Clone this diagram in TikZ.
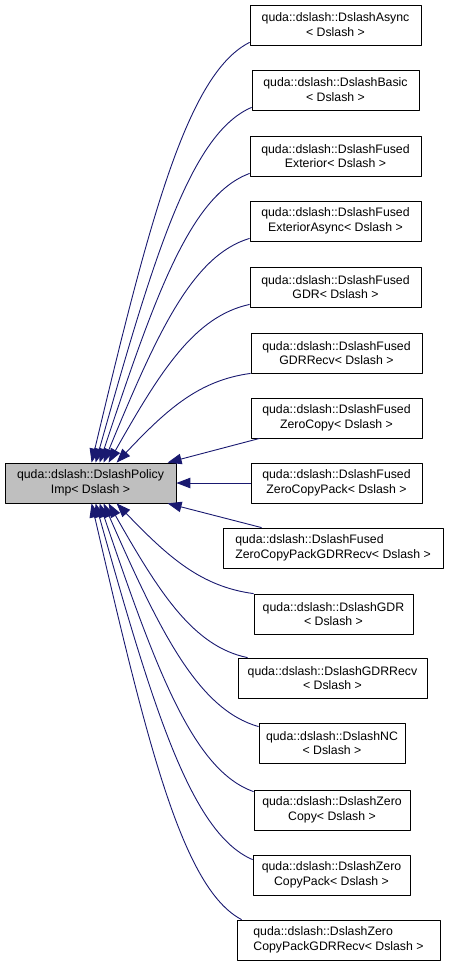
\documentclass[tikz,border=0pt]{standalone}
\usepackage{fontspec}
\setmainfont{Liberation Sans}
\usetikzlibrary{arrows.meta}
\definecolor{edgeblue}{RGB}{25,25,112}
\definecolor{basegray}{RGB}{191,191,191}

\begin{document}
\begin{tikzpicture}[x=1pt, y=-1pt, >={Triangle[length=14pt,width=10.5pt]}, line join=round,
    cls/.style={draw=black, line width=0.8pt, fill=white, minimum height=40pt, inner sep=1pt,
      align=center, font=\fontsize{12.3}{14.8}\selectfont},
    base/.style={cls, fill=basegray},
    inh/.style={->, draw=edgeblue, line width=0.9pt}]
    \useasboundingbox (0,0) rectangle (453,967);
    \node[base, minimum width=171pt] (pol) at (90.5,483) {quda::dslash::DslashPolicy\\Imp< Dslash >};
    \node[cls, minimum width=171pt] (async) at (335.5,25) {quda::dslash::DslashAsync\\< Dslash >};
    \node[cls, minimum width=167pt] (basic) at (335.5,90) {quda::dslash::DslashBasic\\< Dslash >};
    \node[cls, minimum width=171pt] (fext) at (335.5,156) {quda::dslash::DslashFused\\Exterior< Dslash >};
    \node[cls, minimum width=171pt] (fexta) at (335.5,221) {quda::dslash::DslashFused\\ExteriorAsync< Dslash >};
    \node[cls, minimum width=171pt] (fgdr) at (335.5,287) {quda::dslash::DslashFused\\GDR< Dslash >};
    \node[cls, minimum width=171pt] (fgdrr) at (336.5,353) {quda::dslash::DslashFused\\GDRRecv< Dslash >};
    \node[cls, minimum width=171pt] (fzc) at (336.5,418) {quda::dslash::DslashFused\\ZeroCopy< Dslash >};
    \node[cls, minimum width=171pt] (fzcp) at (336.5,483) {quda::dslash::DslashFused\\ZeroCopyPack< Dslash >};
    \node[cls, minimum width=220pt, align=left] (fzcpg) at (333,548) {quda::dslash::DslashFused\\ZeroCopyPackGDRRecv< Dslash >};
    \node[cls, minimum width=159pt] (gdr) at (333.5,614) {quda::dslash::DslashGDR\\< Dslash >};
    \node[cls, minimum width=189pt] (gdrr) at (332.5,678) {quda::dslash::DslashGDRRecv\\< Dslash >};
    \node[cls, minimum width=146pt] (nc) at (332,743) {quda::dslash::DslashNC\\< Dslash >};
    \node[cls, minimum width=156pt] (zc) at (332,810) {quda::dslash::DslashZero\\Copy< Dslash >};
    \node[cls, minimum width=157pt] (zcp) at (331.5,875) {quda::dslash::DslashZero\\CopyPack< Dslash >};
    \node[cls, minimum width=203pt, align=left] (zcpg) at (338.5,940) {quda::dslash::DslashZero\\CopyPackGDRRecv< Dslash >};
    \draw[inh] ([yshift=3pt]async.south west) .. controls +(-62,31) and +(58,-244) .. ([xshift=87pt]pol.north west);
    \draw[inh] ([yshift=3pt]basic.south west) .. controls +(-61,26) and +(58,-206) .. ([xshift=91pt]pol.north west);
    \draw[inh] ([yshift=3pt]fext.south west) .. controls +(-59,22) and +(56,-169) .. ([xshift=95pt]pol.north west);
    \draw[inh] ([yshift=3pt]fexta.south west) .. controls +(-57,17) and +(54,-131) .. ([xshift=99pt]pol.north west);
    \draw[inh] ([yshift=3pt]fgdr.south west) .. controls +(-55,12) and +(52,-92) .. ([xshift=104pt]pol.north west);
    \draw[inh] (fgdrr.south west) .. controls +(-52,7) and +(50,-53) .. ([xshift=112pt]pol.north west);
    \draw[inh] ([xshift=9pt]fzc.south west) -- ([xshift=163pt]pol.north west);
    \draw[inh] (fzcp.west) -- (pol.east);
    \draw[inh] ([xshift=39pt]fzcpg.north west) -- ([xshift=163pt]pol.south west);
    \draw[inh] (gdr.north west) .. controls +(-53,-7) and +(51,53) .. ([xshift=112pt]pol.south west);
    \draw[inh] ([xshift=10pt]gdrr.north west) .. controls +(-54,-11) and +(51,90) .. ([xshift=104pt]pol.south west);
    \draw[inh] ([yshift=-4pt]nc.north west) .. controls +(-60,-17) and +(57,130) .. ([xshift=99pt]pol.south west);
    \draw[inh] ([yshift=-2pt]zc.north west) .. controls +(-60,-21) and +(57,168) .. ([xshift=95pt]pol.south west);
    \draw[inh] ([yshift=-5pt]zcp.north west) .. controls +(-61,-26) and +(58,207) .. ([xshift=91pt]pol.south west);
    \draw[inh] ([xshift=5pt]zcpg.north west) .. controls +(-59,-31) and +(56,242) .. ([xshift=87pt]pol.south west);
\end{tikzpicture}
\end{document}
